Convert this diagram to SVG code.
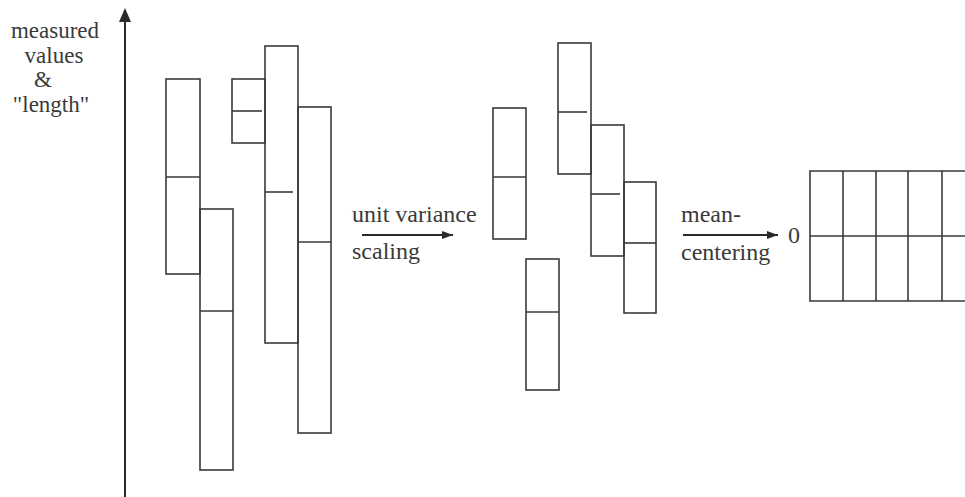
<svg xmlns="http://www.w3.org/2000/svg" width="965" height="497" viewBox="0 0 965 497">
<defs>
<marker id="ah" markerWidth="12" markerHeight="10" refX="11" refY="5" orient="auto" markerUnits="userSpaceOnUse">
<path d="M0,1 L11,5 L0,9 Z" fill="#2a2a2a"/>
</marker>
</defs>
<style>
.b{fill:none;stroke:#3a3a3a;stroke-width:1.6}
.l{stroke:#3a3a3a;stroke-width:1.6}
.t{font-family:'Liberation Serif','DejaVu Serif',serif;font-size:24px;fill:#3a3a3a}
.a{font-size:23px}
.c{stroke:#2a2a2a;stroke-width:1.8;fill:none}
</style>
<rect width="965" height="497" fill="#fff"/>
<g id="axis">
<line x1="125" y1="20" x2="125" y2="497" stroke="#2a2a2a" stroke-width="2"/>
<path d="M125,8 L131,22 L119,22 Z" fill="#2a2a2a"/>
<text class="t a" x="55" y="38" text-anchor="middle">measured</text>
<text class="t a" x="54" y="63" text-anchor="middle">values</text>
<text class="t a" x="43" y="87" text-anchor="middle">&amp;</text>
<text class="t a" x="51" y="112" text-anchor="middle">"length"</text>
</g>
<g id="barA"><rect class="b" x="166" y="79" width="34" height="195"/><line class="l" x1="166" y1="177" x2="200" y2="177"/></g>
<g id="barB"><rect class="b" x="200" y="209" width="33" height="261"/><line class="l" x1="200" y1="311" x2="233" y2="311"/></g>
<g id="barC"><rect class="b" x="232" y="79" width="33" height="64"/><line class="l" x1="232" y1="111" x2="262" y2="111"/></g>
<g id="barD"><rect class="b" x="265" y="46" width="33" height="297"/><line class="l" x1="265" y1="192" x2="293" y2="192"/></g>
<g id="barE"><rect class="b" x="298" y="107" width="33" height="326"/><line class="l" x1="298" y1="242" x2="331" y2="242"/></g>
<g id="barF"><rect class="b" x="493" y="108" width="33" height="131"/><line class="l" x1="493" y1="177" x2="526" y2="177"/></g>
<g id="barG"><rect class="b" x="526" y="259" width="33" height="131"/><line class="l" x1="526" y1="312" x2="559" y2="312"/></g>
<g id="barH"><rect class="b" x="558" y="43" width="33" height="131"/><line class="l" x1="558" y1="112" x2="587" y2="112"/></g>
<g id="barI"><rect class="b" x="591" y="125" width="33" height="131"/><line class="l" x1="591" y1="194" x2="620" y2="194"/></g>
<g id="barJ"><rect class="b" x="624" y="182" width="32" height="131"/><line class="l" x1="624" y1="243" x2="656" y2="243"/></g>
<g id="grid">
<path class="b" d="M966,171 L810,171 L810,301 L966,301"/>
<line class="l" x1="810" y1="236" x2="966" y2="236"/>
<line class="l" x1="843" y1="171" x2="843" y2="301"/>
<line class="l" x1="876" y1="171" x2="876" y2="301"/>
<line class="l" x1="908" y1="171" x2="908" y2="301"/>
<line class="l" x1="942" y1="171" x2="942" y2="301"/>
<text class="t" x="794" y="243" text-anchor="middle">0</text>
</g>
<g id="connectors">
<line class="c" x1="362" y1="235" x2="453" y2="235" marker-end="url(#ah)"/>
<text class="t" x="352" y="222">unit variance</text>
<text class="t" x="352" y="259">scaling</text>
<line class="c" x1="683" y1="235" x2="778" y2="235" marker-end="url(#ah)"/>
<text class="t" x="681" y="222">mean-</text>
<text class="t" x="681" y="260">centering</text>
</g>
</svg>
